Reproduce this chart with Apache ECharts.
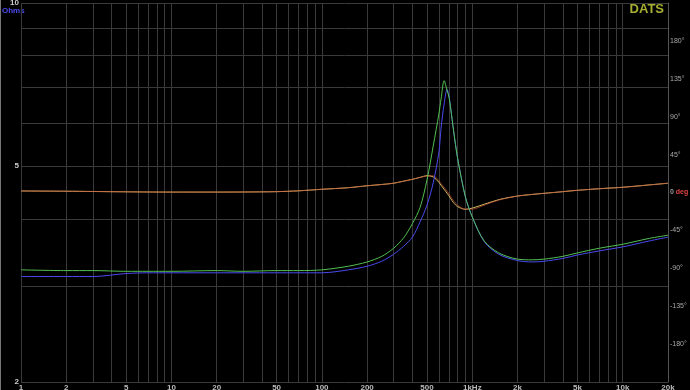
<!DOCTYPE html>
<html><head><meta charset="utf-8">
<script src="https://cdn.jsdelivr.net/npm/echarts@6/dist/echarts.min.js"></script>
<style>html,body{margin:0;padding:0;background:#000}#c{width:690px;height:390px}</style>
</head><body><div id="c"></div>
<script>
const freqs = [1, 2, 3, 5, 7, 10, 20, 30, 50, 70, 100, 150, 200, 250, 300, 350, 400, 450, 500, 550, 600, 620, 650, 680, 700, 720, 750, 800, 900, 1000, 1200, 1500, 2000, 2500, 3000, 4000, 5000, 7000, 10000, 15000, 20000];
const impGreen = [3.22, 3.21, 3.21, 3.20, 3.20, 3.20, 3.21, 3.20, 3.21, 3.21, 3.22, 3.27, 3.33, 3.41, 3.53, 3.69, 3.92, 4.2, 4.72, 5.45, 6.25, 6.65, 7.19, 6.9, 6.7, 6.37, 5.83, 5.16, 4.39, 4.03, 3.64, 3.46, 3.37, 3.36, 3.37, 3.41, 3.46, 3.53, 3.59, 3.68, 3.73];
const impBlue = [3.13, 3.13, 3.13, 3.17, 3.18, 3.18, 3.18, 3.18, 3.18, 3.18, 3.18, 3.22, 3.27, 3.34, 3.44, 3.56, 3.7, 3.95, 4.24, 4.66, 5.31, 5.88, 6.52, 6.93, 6.75, 6.37, 5.83, 5.16, 4.39, 4.03, 3.63, 3.44, 3.35, 3.33, 3.34, 3.38, 3.43, 3.49, 3.55, 3.64, 3.70];
const phaseYellow = [1.8, 1.5, 1.2, 0.8, 0.6, 0.5, 0.5, 0.6, 1.0, 2.0, 3.8, 5.7, 8, 9.5, 11, 13.5, 15.7, 18, 20, 18.5, 12, 8.5, 3.8, -1, -4, -7.5, -12, -16.8, -20, -18.5, -14, -8.5, -4.2, -2.3, -1, 1, 2.6, 4.5, 6.2, 9, 11];
const phaseRed = [1.8, 1.5, 1.2, 0.8, 0.6, 0.5, 0.5, 0.6, 1.0, 2.0, 3.8, 5.7, 8, 9.5, 11, 13.5, 15.7, 18, 19.5, 19.8, 14, 10.5, 6.2, 1.5, -1.8, -5, -9.7, -15.2, -19.8, -19.8, -15, -9, -4.2, -2.3, -1, 1, 2.6, 4.5, 6.2, 9, 11];
const xGridValues = [1,2,3,4,5,6,7,8,9,10,20,30,40,50,60,70,80,90,100,200,300,400,500,600,700,800,900,1000,2000,3000,4000,5000,6000,7000,8000,9000,10000,20000];
const xLabelValues = [1,2,5,10,20,50,100,200,500,1000,2000,5000,10000,20000];
const xLabelText = {1000:'1kHz',2000:'2k',5000:'5k',10000:'10k',20000:'20k'};
const ohmGridValues = [2,3,4,5,6,7,8,9,10];
const ohmLabelValues = [2,5,10];

const pairs = (ys) => freqs.map((f, i) => [f, ys[i]]);
const chart = echarts.init(document.getElementById('c'), null, {renderer: 'canvas'});
const gridColor = '#3a3a3a';
chart.setOption({
  animation: false,
  backgroundColor: '#000',
  title: {text: 'DATS', right: 26, top: 3, padding: 0,
    textStyle: {color: '#a6ae32', fontSize: 13, fontWeight: 'bold', fontFamily: 'Arial'}},
  graphic: [
    {type: 'text', left: 2, top: 7, style: {text: 'Ohms', fill: '#4b4bf0', font: 'bold 8px Arial'}},
    {type: 'line', shape: {x1: 0.5, y1: 0, x2: 0.5, y2: 390}, style: {stroke: '#777', lineWidth: 1}}
  ],
  grid: {left: 21, right: 22, top: 3, bottom: 8, outerBoundsMode: 'none', containLabel: false},
  xAxis: {
    type: 'log', logBase: 10, min: 1, max: 20000,
    axisLine: {show: false},
    axisTick: {show: false, customValues: xGridValues},
    splitLine: {show: true, lineStyle: {color: gridColor, width: 1}},
    axisLabel: {customValues: xLabelValues, formatter: v => xLabelText[v] || String(v),
      color: '#bbb', fontSize: 8, fontWeight: 'bold', fontFamily: 'Arial', margin: 2}
  },
  yAxis: [
    {
      type: 'log', logBase: 10, min: 2, max: 10, position: 'left',
      axisLine: {show: false},
      axisTick: {show: false, customValues: ohmGridValues},
      splitLine: {show: true, lineStyle: {color: gridColor, width: 1}},
      axisLabel: {customValues: ohmLabelValues, color: '#ccc', fontSize: 8, fontWeight: 'bold', fontFamily: 'Arial', margin: 2}
    },
    {
      type: 'value', min: -225, max: 225, interval: 45, position: 'right',
      axisLine: {show: true, lineStyle: {color: '#555'}},
      axisTick: {show: false},
      splitLine: {show: false},
      axisLabel: {showMinLabel: false, showMaxLabel: false, margin: 2, hideOverlap: false,
        formatter: v => v === 0 ? '{z|0}{r| deg}' : v + '°',
        color: '#aaa', fontSize: 7, fontFamily: 'Arial', overflow: 'none',
        rich: {
          z: {color: '#999', fontSize: 7, fontWeight: 'bold', fontFamily: 'Arial'},
          r: {color: '#e04545', fontSize: 7, fontWeight: 'bold', fontFamily: 'Arial'}
        }}
    }
  ],
  series: [
    {name: 'Phase 2', type: 'line', yAxisIndex: 1, data: pairs(phaseYellow), showSymbol: false, smooth: 0.3,
      lineStyle: {color: '#cfc060', width: 1}},
    {name: 'Phase 1', type: 'line', yAxisIndex: 1, data: pairs(phaseRed), showSymbol: false, smooth: 0.3,
      lineStyle: {color: '#c8503c', width: 1, opacity: 0.7}},
    {name: 'Impedance 2', type: 'line', yAxisIndex: 0, data: pairs(impBlue), showSymbol: false, smooth: 0.3,
      lineStyle: {color: '#4a4af0', width: 1}},
    {name: 'Impedance 1', type: 'line', yAxisIndex: 0, data: pairs(impGreen), showSymbol: false, smooth: 0.3,
      lineStyle: {color: '#52c052', width: 1}}
  ]
});
</script></body></html>
